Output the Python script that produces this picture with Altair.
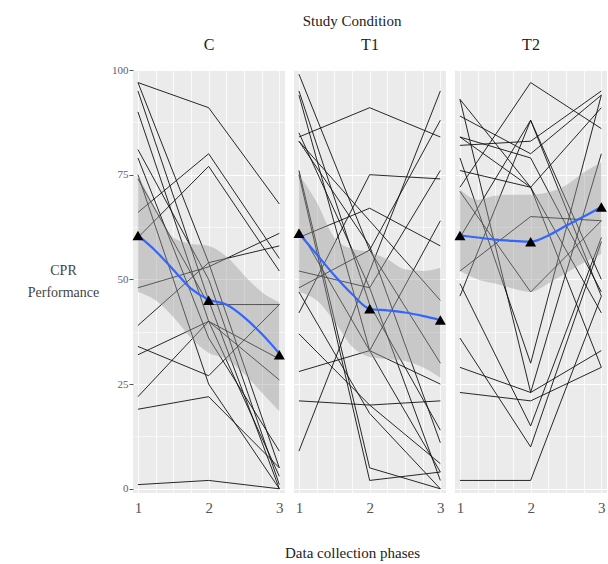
import altair as alt
import pandas as pd

FONT = "Liberation Serif"

phases = [1, 2, 3]

# individual trajectories: score at phase 1, 2, 3
c_lines = [
    [97, 91, 68], [97, 54, 5], [95, 45, 0], [90, 40, 3], [81, 50, 1],
    [79, 36, 9], [75, 25, 0], [74, 44, 44], [66, 80, 55], [60, 77, 52],
    [48, 53, 61], [39, 54, 58], [34, 27, 44], [32, 40, 26], [22, 40, 31],
    [19, 22, 5], [1, 2, 0],
]
t1_lines = [
    [99, 57, 30], [94, 33, 4], [84, 91, 84], [85, 48, 2], [83, 64, 45],
    [83, 58, 11], [76, 5, 0], [60, 67, 58], [52, 48, 76], [48, 57, 88],
    [42, 75, 74], [37, 20, 6], [28, 33, 64], [21, 20, 21], [9, 52, 95],
    [75, 2, 4], [47, 18, 0], [95, 44, 14], [62, 33, 25],
]
t2_lines = [
    [93, 72, 29], [89, 80, 94], [72, 97, 86], [82, 83, 95], [84, 72, 91],
    [76, 72, 42], [79, 30, 94], [46, 88, 50], [52, 65, 64], [49, 15, 60],
    [36, 10, 59], [60, 88, 46], [29, 23, 33], [23, 21, 29], [2, 2, 46],
    [93, 23, 80], [84, 79, 47], [71, 47, 64],
]

# smoothed trend with confidence band, read at these phase positions
smooth_x = [1, 1.25, 1.5, 1.75, 2, 2.25, 2.5, 2.75, 3]
c_fit = [60.5, 56.8, 52.3, 47.8, 45.2, 44.0, 41.0, 37.0, 32.3]
c_lo = [47, 45, 41, 36, 32.5, 31, 27.5, 23, 18.5]
c_hi = [75, 67, 60, 58.5, 58, 55.5, 51, 47, 44.5]
t1_fit = [61, 56, 51, 46.5, 43, 42.6, 42.1, 41.3, 40.3]
t1_lo = [47, 45, 40, 34, 31.5, 31, 30.5, 29, 26.5]
t1_hi = [75, 68.5, 60, 57.3, 56.5, 54.8, 52.4, 52, 52.8]
t2_fit = [60.5, 60.0, 59.5, 59.2, 59.0, 60.5, 62.8, 65.0, 67.3]
t2_lo = [52, 50, 49, 47.8, 47, 49, 51.5, 54, 56]
t2_hi = [71.5, 69, 70, 70.2, 70.2, 70.8, 72.5, 75.5, 78]

c_means = [60.5, 45.0, 32.0]
t1_means = [61.0, 43.0, 40.3]
t2_means = [60.5, 59.0, 67.3]

x_grid = [1, 1.25, 1.5, 1.75, 2, 2.25, 2.5, 2.75, 3]
y_grid = [0, 12.5, 25, 37.5, 50, 62.5, 75, 87.5, 100]

W, H = 152, 423


def panel(name, lines, fit, lo, hi, means, show_y, show_xtitle, title_offset):
    traj = pd.DataFrame(
        [{"id": i, "phase": p, "score": v}
         for i, row in enumerate(lines) for p, v in zip(phases, row)]
    )
    sm = pd.DataFrame({"phase": smooth_x, "score": fit, "lo": lo, "hi": hi})
    mn = pd.DataFrame({"phase": phases, "score": means})

    xaxis = alt.Axis(
        values=x_grid,
        labelExpr="datum.value % 1 === 0 ? format(datum.value, 'd') : ''",
        ticks=False, domain=False,
        grid=True, gridColor="white", gridWidth=0.8,
        labelFont=FONT, labelFontSize=15, labelColor="#555555", labelPadding=7,
        title="Data collection phases" if show_xtitle else "",
        titleFont=FONT, titleFontSize=15, titleFontWeight="normal", titleColor="#222222",
        titleX=58, titleY=59, titleAlign="center", titleBaseline="middle",
    )
    if show_y:
        yaxis = alt.Axis(
            values=y_grid,
            labelExpr="datum.value % 25 === 0 ? format(datum.value, 'd') : ''",
            tickSize=4, tickColor="#555555",
            tickOpacity={"condition": {"test": "datum.value % 25 === 0", "value": 1}, "value": 0},
            domain=False, grid=True, gridColor="white",
            gridWidth={"condition": {"test": "datum.value % 25 === 0", "value": 1.2}, "value": 0.6},
            labelFont=FONT, labelFontSize=11, labelColor="#5c5c6c", labelPadding=1,
            title=["CPR", "Performance"], titleAngle=0, titleAlign="center",
            titleBaseline="middle", titleX=-70, titleY=200, titleLineHeight=22,
            titleFont=FONT, titleFontSize=14, titleFontWeight="normal", titleColor="#444444",
        )
    else:
        yaxis = alt.Axis(
            values=y_grid, labels=False, ticks=False, domain=False, grid=True,
            gridColor="white",
            gridWidth={"condition": {"test": "datum.value % 25 === 0", "value": 1.2}, "value": 0.6},
            title="",
        )

    xs = alt.Scale(domain=[0.93, 3.08], nice=False, zero=False)
    ys = alt.Scale(domain=[-1, 100], nice=False, zero=False)
    x = alt.X("phase:Q", scale=xs, axis=xaxis)
    y = alt.Y("score:Q", scale=ys, axis=yaxis)

    ln = alt.Chart(traj).mark_line(color="#111111", strokeWidth=0.9).encode(
        x=x, y=y, detail="id:N"
    )
    band = alt.Chart(sm).mark_area(color="#999999", opacity=0.42, interpolate="monotone").encode(
        x=x, y=alt.Y("lo:Q", scale=ys, axis=yaxis), y2="hi:Q"
    )
    fitl = alt.Chart(sm).mark_line(color="#3366FF", strokeWidth=2.2, interpolate="monotone").encode(
        x=x, y=y
    )
    pts = alt.Chart(mn).mark_point(shape="triangle-up", filled=True, color="black",
                                   size=120, opacity=1).encode(x=x, y=y)
    return alt.layer(ln, band, fitl, pts).properties(
        width=W, height=H,
        title=alt.TitleParams(name, font=FONT, fontSize=16, fontWeight="normal",
                              color="#222222", offset=title_offset),
    )


chart = alt.hconcat(
    panel("C", c_lines, c_fit, c_lo, c_hi, c_means, True, False, 11),
    panel("T1", t1_lines, t1_fit, t1_lo, t1_hi, t1_means, False, True, 17),
    panel("T2", t2_lines, t2_fit, t2_lo, t2_hi, t2_means, False, False, 17),
    spacing=9,
    bounds="flush",
    title=alt.TitleParams("Study Condition", font=FONT, fontSize=15, fontWeight="normal",
                          color="#222222", anchor="middle", dx=35, offset=8),
).properties(
    padding={"left": 27, "top": 14, "right": 0, "bottom": 5},
).configure(font=FONT).configure_view(fill="#EBEBEB", strokeWidth=0)

chart.save("out.html", embed_options={"renderer": "svg", "actions": False})
